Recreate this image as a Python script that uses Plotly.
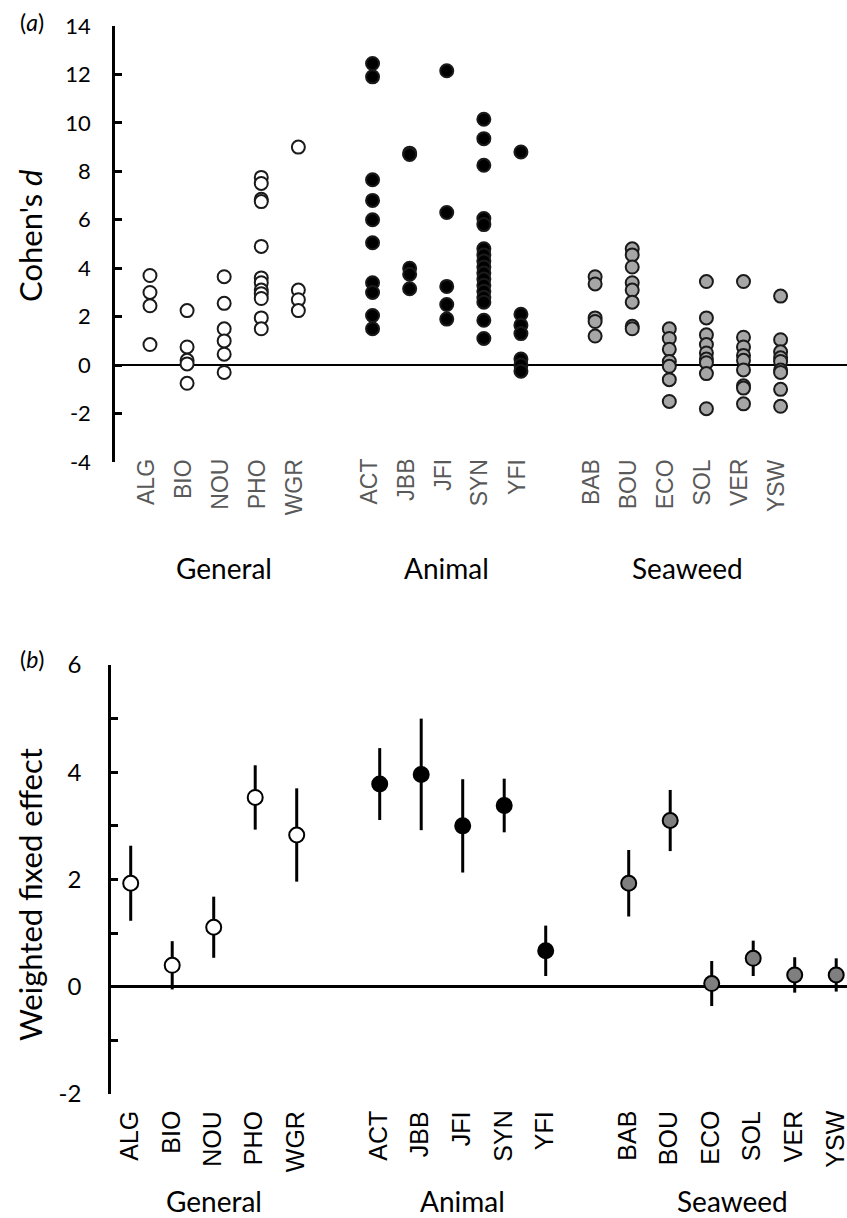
import plotly.graph_objects as go

# ---------------- data ----------------
general = ["ALG", "BIO", "NOU", "PHO", "WGR"]
animal = ["ACT", "JBB", "JFI", "SYN", "YFI"]
seaweed = ["BAB", "BOU", "ECO", "SOL", "VER", "YSW"]
group_names = ["General", "Animal", "Seaweed"]

# panel (a): Cohen's d for each study within each site/category
cohen_d = {
    "ALG": [3.7, 3.0, 2.45, 0.85],
    "BIO": [2.25, 0.75, 0.2, 0.05, -0.75],
    "NOU": [3.65, 2.55, 1.5, 1.0, 0.45, -0.3],
    "PHO": [7.75, 7.5, 6.85, 6.75, 4.9, 3.6, 3.4, 3.1, 2.95, 2.75, 1.95, 1.5],
    "WGR": [9.0, 3.1, 2.7, 2.25],
    "ACT": [12.45, 11.9, 7.65, 6.8, 6.0, 5.05, 3.4, 3.0, 2.05, 1.5],
    "JBB": [8.75, 8.7, 4.0, 3.75, 3.15],
    "JFI": [12.15, 6.3, 3.25, 2.5, 1.9],
    "SYN": [10.15, 9.35, 8.25, 6.05, 5.8, 4.8, 4.55, 4.3, 4.05, 3.8, 3.55,
            3.3, 3.05, 2.8, 2.6, 1.85, 1.1],
    "YFI": [8.8, 2.1, 1.65, 1.3, 0.25, 0.0, -0.25],
    "BAB": [3.65, 3.35, 1.95, 1.8, 1.2],
    "BOU": [4.8, 4.55, 4.05, 3.4, 3.1, 2.6, 1.6, 1.5],
    "ECO": [1.5, 1.1, 0.65, 0.15, -0.05, -0.6, -1.5],
    "SOL": [3.45, 1.95, 1.25, 0.85, 0.5, 0.25, 0.1, -0.35, -1.8],
    "VER": [3.45, 1.15, 0.75, 0.4, 0.2, -0.2, -0.85, -0.95, -1.6],
    "YSW": [2.85, 1.05, 0.55, 0.3, 0.15, -0.2, -0.3, -1.0, -1.7],
}

# panel (b): weighted fixed effect and its error (half-length of bar)
wfe_general = [1.93, 0.40, 1.11, 3.53, 2.83]
err_general = [0.70, 0.45, 0.57, 0.60, 0.87]
wfe_animal = [3.78, 3.96, 3.00, 3.38, 0.67]
err_animal = [0.67, 1.04, 0.87, 0.50, 0.47]
wfe_seaweed = [1.93, 3.10, 0.06, 0.53, 0.22, 0.22]
err_seaweed = [0.62, 0.57, 0.42, 0.33, 0.33, 0.31]

# y tick values / labels (hyphen minus as in the original)
ticks_a = [-4, -2, 0, 2, 4, 6, 8, 10, 12, 14]
ticks_b = [-2, 0, 2, 4, 6]

# category order with blank spacer slots between groups
cat_order = general + [" "] + animal + ["  "] + seaweed

# ---------------- styles ----------------
fill_top = {"General": "white", "Animal": "black", "Seaweed": "#a6a6a6"}
fill_bot = {"General": "white", "Animal": "black", "Seaweed": "#7f7f7f"}
W, H = 847, 1218

fig = go.Figure()

groups = [("General", general), ("Animal", animal), ("Seaweed", seaweed)]
for gname, cats in groups:
    xs, ys = [], []
    for c in cats:
        for v in cohen_d[c]:
            xs.append(c)
            ys.append(v)
    fig.add_trace(go.Scatter(
        x=xs, y=ys, mode="markers", xaxis="x", yaxis="y",
        marker=dict(size=13, color=fill_top[gname],
                    line=dict(color="#1a1a1a", width=2)),
        showlegend=False, hoverinfo="skip"))

bot = [("General", general, wfe_general, err_general),
       ("Animal", animal, wfe_animal, err_animal),
       ("Seaweed", seaweed, wfe_seaweed, err_seaweed)]
for gname, cats, vals, errs in bot:
    fig.add_trace(go.Scatter(
        x=cats, y=vals, mode="markers", xaxis="x2", yaxis="y2",
        error_y=dict(type="data", array=errs, visible=True,
                     color="black", thickness=3, width=0),
        marker=dict(size=15, color=fill_bot[gname],
                    line=dict(color="black", width=2)),
        showlegend=False, hoverinfo="skip"))

# domains (paper coordinates)
top_y0, top_y1 = 1 - 462 / H, 1 - 26 / H
bot_y0, bot_y1 = 1 - 1094 / H, 1 - 665 / H

fig.update_layout(
    width=W, height=H,
    margin=dict(l=0, r=0, t=0, b=0, autoexpand=False),
    paper_bgcolor="white", plot_bgcolor="white",
    font=dict(family="Lato", color="black"),
    xaxis=dict(domain=[115 / W, 1.0], anchor="y", automargin=False,
               type="category", categoryorder="array", categoryarray=cat_order,
               range=[-0.943, 18.79], showgrid=False, zeroline=False,
               showline=False, ticks="", showticklabels=False),
    yaxis=dict(domain=[top_y0, top_y1], anchor="x", automargin=False,
               range=[-4, 14], tickmode="array", tickvals=ticks_a,
               ticktext=[str(t) for t in ticks_a],
               showgrid=False, zeroline=True, zerolinecolor="black",
               zerolinewidth=2, showline=True, linecolor="black",
               linewidth=2.5, ticks="inside", ticklen=7, tickwidth=2.5,
               tickcolor="black",
               tickfont=dict(family="Lato", size=22, color="black"),
               ticklabelstandoff=17),
    xaxis2=dict(domain=[111 / W, 1.0], anchor="y2", automargin=False,
                type="category", categoryorder="array", categoryarray=cat_order,
                range=[-0.475, 17.26], showgrid=False, zeroline=False,
                showline=False, ticks="", showticklabels=False),
    yaxis2=dict(domain=[bot_y0, bot_y1], anchor="x2", automargin=False,
                range=[-2, 6], tickmode="array", tickvals=ticks_b,
                ticktext=[str(t) for t in ticks_b],
                showgrid=False, zeroline=True, zerolinecolor="black",
                zerolinewidth=3, showline=True, linecolor="black",
                linewidth=2.5, ticks="inside", ticklen=7, tickwidth=2.5,
                tickcolor="black",
                minor=dict(tickmode="linear", tick0=1, dtick=2, ticks="inside",
                           ticklen=7, tickwidth=2.5,
                           tickcolor="black", showgrid=False),
                tickfont=dict(family="Lato", size=24, color="black"),
                ticklabelstandoff=22),
)

annotations = []
# rotated category labels under each panel
for c in general + animal + seaweed:
    annotations.append(dict(x=c, y=1 - 457 / H, xref="x", yref="paper",
                            text=c, showarrow=False, textangle=-90,
                            font=dict(family="Liberation Sans", size=23,
                                      color="#595959"),
                            xanchor="center", yanchor="top", xshift=-4))
    annotations.append(dict(x=c, y=1 - 1110 / H, xref="x2", yref="paper",
                            text=c, showarrow=False, textangle=-90,
                            font=dict(family="Liberation Sans", size=25,
                                      color="black"),
                            xanchor="center", yanchor="top", borderpad=0,
                            xshift=-2))

# group labels, centred on each group's categories
for gname, cats in groups:
    centre = cat_order.index(cats[0]) + (len(cats) - 1) / 2
    annotations.append(dict(x=centre, y=1 - 568 / H, xref="x", yref="paper",
                            text=gname, showarrow=False,
                            font=dict(family="Lato", size=28, color="black"),
                            xanchor="center", yanchor="middle"))
    annotations.append(dict(x=centre, y=1 - 1201 / H, xref="x2", yref="paper",
                            text=gname, showarrow=False,
                            font=dict(family="Lato", size=28, color="black"),
                            xanchor="center", yanchor="middle"))

annotations += [
    dict(x=32 / W, y=1 - 22 / H, xref="paper", yref="paper",
         text="(<i>a</i>)", showarrow=False,
         font=dict(family="Lato", size=23, color="black"),
         xanchor="center", yanchor="middle"),
    dict(x=32 / W, y=1 - 659 / H, xref="paper", yref="paper",
         text="(<i>b</i>)", showarrow=False,
         font=dict(family="Lato", size=23, color="black"),
         xanchor="center", yanchor="middle"),
    dict(x=30 / W, y=1 - 236 / H, xref="paper", yref="paper",
         text="Cohen's <i>d</i>", showarrow=False, textangle=-90,
         font=dict(family="Lato", size=31, color="black"),
         xanchor="center", yanchor="middle"),
    dict(x=30 / W, y=1 - 895 / H, xref="paper", yref="paper",
         text="Weighted fixed effect", showarrow=False, textangle=-90,
         font=dict(family="Lato", size=31, color="black"),
         xanchor="center", yanchor="middle"),
]
fig.update_layout(annotations=annotations)

fig.write_html("out.html")
